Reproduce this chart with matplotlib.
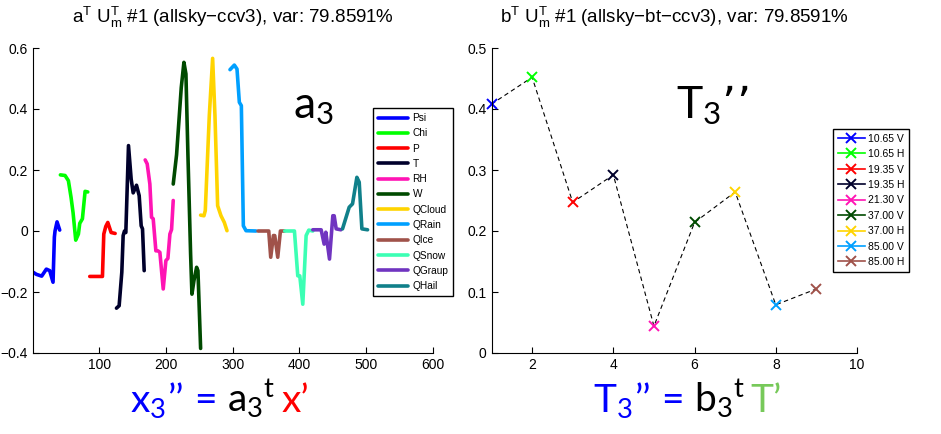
import numpy as np
import matplotlib
matplotlib.use("Agg")
import matplotlib.pyplot as plt

plt.rcParams['font.family'] = ['Liberation Sans', 'DejaVu Sans']
plt.rcParams['mathtext.default'] = 'regular'

# ---- dane: lewy panel (a^T U_m^T), punkty ----
names = ['Psi', 'Chi', 'P', 'T', 'RH', 'W', 'QCloud', 'QRain', 'QIce', 'QSnow', 'QGraup', 'QHail']
colors = ['#0000ff', '#00ff00', '#ff0000', '#00002b', '#ff14b4', '#004a00',
          '#ffd400', '#00a0ff', '#a0524a', '#3cffb4', '#7034c0', '#10808a']

psi_x = [1, 6, 14, 21, 26, 31, 33, 34, 37, 41]
psi_y = [-0.135, -0.142, -0.148, -0.125, -0.13, -0.168, -0.02, 0.0, 0.03, 0.003]
chi_x = [42, 49, 54, 58, 61, 65, 69, 71, 75, 79, 83]
chi_y = [0.184, 0.182, 0.165, 0.11, 0.06, -0.03, -0.01, 0.025, 0.04, 0.13, 0.128]
p_x = [86, 105, 107, 110, 113, 118, 124]
p_y = [-0.149, -0.149, -0.01, 0.015, 0.028, -0.005, -0.008]
t_x = [126, 130, 134, 136, 138, 140, 144, 148, 151, 156, 160, 163, 165, 167.5]
t_y = [-0.253, -0.245, -0.135, -0.015, 0.0, -0.005, 0.28, 0.17, 0.125, 0.15, 0.116, 0.017, 0.007, -0.13]
rh_x = [169, 172, 176, 178.5, 181, 185, 188, 191, 196, 200, 203, 206, 208.5, 211]
rh_y = [0.233, 0.22, 0.154, 0.045, 0.04, -0.065, -0.065, -0.07, -0.19, -0.097, -0.09, -0.01, 0.005, 0.1]
w_x = [211, 216, 223, 227, 230, 233, 237, 239, 242, 246, 248, 252]
w_y = [0.154, 0.25, 0.47, 0.553, 0.515, 0.25, -0.075, -0.207, -0.163, -0.119, -0.13, -0.385]
qcloud_x = [252, 257, 259, 265, 270, 273.5, 277.5, 282.5, 287.5, 291.5]
qcloud_y = [0.052, 0.05, 0.067, 0.378, 0.566, 0.378, 0.083, 0.05, 0.028, 0.001]
qrain_x = [296, 302.5, 306.5, 310, 313, 316, 320, 335]
qrain_y = [0.529, 0.544, 0.531, 0.422, 0.411, 0.017, 0.001, 0.0]
qice_x = [338, 354, 357, 361, 363, 367.5, 371.5, 377.5]
qice_y = [0, 0, -0.086, -0.015, -0.015, -0.086, 0, 0]
qsnow_x = [378, 392.5, 397.5, 400.5, 405, 410, 414, 420]
qsnow_y = [0, 0, -0.147, -0.147, -0.24, -0.015, 0.003, 0]
qgraup_x = [420, 432.5, 437, 439.5, 445, 450, 452, 455, 462]
qgraup_y = [0.004, 0.004, -0.043, -0.004, -0.092, 0.05, 0.05, 0.007, 0.004]
qhail_x = [464.5, 474.5, 479.5, 486, 489.5, 493.5, 502]
qhail_y = [0.007, 0.078, 0.089, 0.176, 0.16, 0.007, 0.004]

xs = [psi_x, chi_x, p_x, t_x, rh_x, w_x, qcloud_x, qrain_x, qice_x, qsnow_x, qgraup_x, qhail_x]
ys = [psi_y, chi_y, p_y, t_y, rh_y, w_y, qcloud_y, qrain_y, qice_y, qsnow_y, qgraup_y, qhail_y]

# ---- dane: prawy panel (b^T U_m^T) ----
channels = ['10.65 V', '10.65 H', '19.35 V', '19.35 H', '21.30 V', '37.00 V', '37.00 H', '85.00 V', '85.00 H']
b_idx = [1, 2, 3, 4, 5, 6, 7, 8, 9]
b_val = [0.408, 0.452, 0.247, 0.292, 0.044, 0.214, 0.264, 0.079, 0.105]

fig = plt.figure(figsize=(9.41, 4.34), dpi=100)
W, H = 941.0, 434.0

def matlab_axes(ax):
    for s in ['top', 'right']:
        ax.spines[s].set_visible(False)
    ax.tick_params(direction='in', length=4, labelsize=10, colors='black')
    ax.spines['left'].set_linewidth(0.8)
    ax.spines['bottom'].set_linewidth(0.8)

# lewy
ax1 = fig.add_axes([33 / W, 1 - 353 / H, 400 / W, 305 / H])
for x, y, c, n in zip(xs, ys, colors, names):
    ax1.plot(x, y, color=c, lw=2.6, label=n, solid_capstyle='round', solid_joinstyle='round')
ax1.set_xlim(1, 600)
ax1.set_ylim(-0.4, 0.6)
ax1.set_xticks([100, 200, 300, 400, 500, 600])
ax1.set_yticks([-0.4, -0.2, 0, 0.2, 0.4, 0.6])
ax1.set_yticklabels(['\u22120.4', '\u22120.2', '0', '0.2', '0.4', '0.6'])
matlab_axes(ax1)
ax1.set_title('a$^{T}$ U$_{m}^{T}$ #1 (allsky\u2212ccv3), var: 79.8591%', fontsize=13.5, pad=18)
leg1 = ax1.legend(loc='upper left', bbox_to_anchor=(373 / W, 1 - 108 / H), bbox_transform=fig.transFigure,
                  fontsize=7.3, handlelength=3.0, labelspacing=0.52, handletextpad=0.4, borderaxespad=0,
                  fancybox=False, edgecolor='black', framealpha=1, borderpad=0.5)
leg1.get_frame().set_linewidth(1.0)

# prawy
ax2 = fig.add_axes([491.5 / W, 1 - 353 / H, 365.5 / W, 305 / H])
ax2.plot(b_idx, b_val, '--', color='black', lw=0.8, dashes=(4, 3))
for i, v, c, n in zip(b_idx, b_val, colors, channels):
    ax2.plot([i], [v], '-x', color=c, ms=7, mew=1.4, lw=1.2, label=n, clip_on=False)
ax2.set_xlim(1, 10)
ax2.set_ylim(0, 0.5)
ax2.set_xticks([2, 4, 6, 8, 10])
ax2.set_yticks([0, 0.1, 0.2, 0.3, 0.4, 0.5])
ax2.set_yticklabels(['0', '0.1', '0.2', '0.3', '0.4', '0.5'])
matlab_axes(ax2)
ax2.set_title('b$^{T}$ U$_{m}^{T}$ #1 (allsky\u2212bt\u2212ccv3), var: 79.8591%', fontsize=13.5, pad=18)
leg2 = ax2.legend(loc='upper left', bbox_to_anchor=(833 / W, 1 - 129 / H), bbox_transform=fig.transFigure,
                  fontsize=7.5, handlelength=2.6, labelspacing=0.52, handletextpad=0.3, numpoints=1,
                  borderaxespad=0, fancybox=False, edgecolor='black', framealpha=1, borderpad=0.45)
leg2.get_frame().set_linewidth(1.0)

# duze napisy
big = dict(fontsize=32, family=['Lato', 'DejaVu Sans'], fontweight='normal', va='baseline')
fig.text(293 / W, 1 - 118 / H, 'a$_3$', **big)
fig.text(676 / W, 1 - 118 / H, 'T$_3$\u2019\u2019', **big)

# wzory na dole, kolorowe kawalki jeden po drugim
renderer = fig.canvas.get_renderer()
form = dict(big, fontsize=28)

def colored(x, y, parts):
    for s, c, gap in parts:
        t = fig.text(x, y, s, color=c, **form)
        bb = t.get_window_extent(renderer=renderer)
        x += (bb.width + gap) / W

colored(130 / W, 1 - 412 / H, [('x$_3$', '#0000ff', 2), ('\u2019\u2019', '#0000ff', 10), ('=', '#0000ff', 10),
                              ('a$_3{}^t$', 'black', 6), ('x\u2019', '#ff0000', 0)])
colored(593 / W, 1 - 412 / H, [('T$_3$', '#0000ff', 2), ('\u2019\u2019', '#0000ff', 10), ('=', '#0000ff', 10),
                              ('b$_3{}^t$', 'black', 6), ('T\u2019', '#77c95a', 0)])

fig.savefig('out.png', dpi=100)
